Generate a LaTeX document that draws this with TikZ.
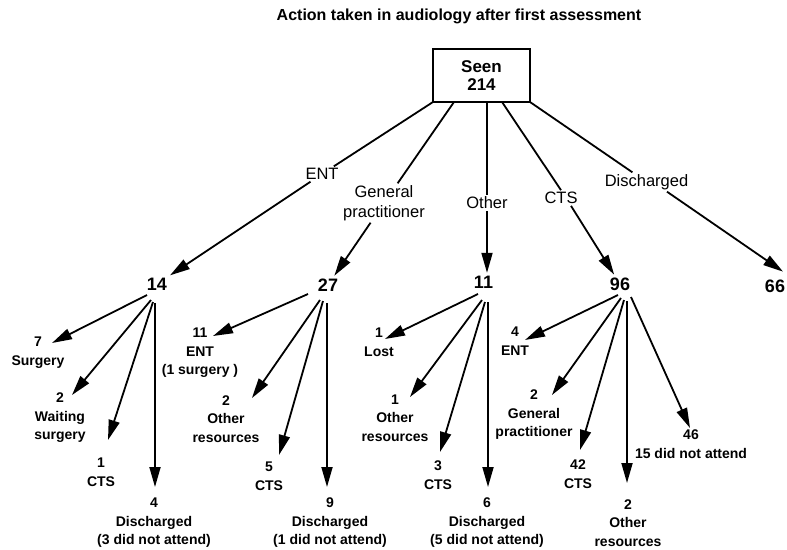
\documentclass[tikz,border=0pt]{standalone}
\usepackage{fontspec}
\setmainfont{Liberation Sans}
\usetikzlibrary{arrows.meta,calc}
\begin{document}
\begin{tikzpicture}[x=1pt,y=-1pt,
  every node/.style={inner sep=0pt, outer sep=0pt},
  line/.style={line width=1.8pt},
  arr/.style={line width=1.8pt, -{Triangle[length=20pt,width=11pt]}},
  toplab/.style={font=\fontsize{16.5}{20}\selectfont, align=center, inner sep=2pt},
  num/.style={font=\fontsize{18}{20}\selectfont\bfseries, inner sep=3pt},
  leaf/.style={font=\fontsize{14}{18.5}\selectfont\bfseries, align=center}]
\useasboundingbox (0,0) rectangle (787,549);

\node[font=\fontsize{16}{19}\selectfont\bfseries] (title) at (459,16) {Action taken in audiology after first assessment};
\node[draw, line width=1.5pt, minimum width=97pt, minimum height=53pt, align=center,
      font=\fontsize{17}{18.5}\selectfont\bfseries] (seen) at (481.5,75.5) {Seen\\214};

% first-level labels
\node[toplab] (lENT) at (322,174) {ENT};
\node[toplab] (lGP) at (384,203) {General\\practitioner};
\node[toplab] (lOther) at (487,203) {Other};
\node[toplab] (lCTS) at (561,198) {CTS};
\node[toplab] (lDis) at (646.5,182) {Discharged};

% numbers
\node[num] (n14) at (157,284) {14};
\node[num] (n27) at (328,285) {27};
\node[num] (n11) at (483.5,282) {11};
\node[num] (n96) at (620,284) {96};
\node[num] (n66) at (775,286) {66};

% leaves
\node[leaf] (c7) at (38,352.5) {7\\Surgery};
\node[leaf] (cWait) at (60,418) {2\\Waiting\\surgery};
\node[leaf] (cA1) at (101,472) {1\\CTS};
\node[leaf] (cA4) at (154,523) {4\\Discharged\\(3 did not attend)};

\node[leaf] (cB11) at (200,353) {11\\ENT\\(1 surgery )};
\node[leaf] (cB2) at (226,419) {2\\Other\\resources};
\node[leaf] (cB5) at (269,476) {5\\CTS};
\node[leaf] (cB9) at (330,523) {9\\Discharged\\(1 did not attend)};

\node[leaf] (cC1) at (379,342) {1\\Lost};
\node[leaf] (cC1o) at (395,418) {1\\Other\\resources};
\node[leaf] (cC3) at (438,475) {3\\CTS};
\node[leaf] (cC6) at (487,523) {6\\Discharged\\(5 did not attend)};

\node[leaf] (cD4) at (515,341) {4\\ENT};
\node[leaf] (cD2) at (534,415) {2\\General\\practitioner};
\node[leaf] (cD42) at (578,474) {42\\CTS};
\node[leaf] (cD2o) at (628,523) {2\\Other\\resources};
\node[leaf] (cD46) at (691,444) {46\\15 did not attend};

% box to labels
\draw[line] (seen.south west) -- (lENT);
\draw[line] ([xshift=21pt]seen.south west) -- (lGP);
\draw[line] (seen.south -| lOther.north) -- (lOther.north);
\draw[line] ([xshift=69pt]seen.south west) -- (lCTS.north);
\draw[line] (seen.south east) -- (lDis);

% labels to numbers
\draw[arr] (lENT) -- (n14);
\draw[arr] (lGP) -- (n27);
\draw[arr] (lOther.south) -- (lOther.south |- n11.north);
\draw[arr] ([xshift=10pt]lCTS.south) -- (n96);
\draw[arr] ([xshift=20.5pt]lDis.south) -- ([xshift=8pt,yshift=5pt]n66.north);

% 14
\draw[arr] ([shift={(-10,11)}]n14.center) -- ([shift={(14,-9.5)}]c7.center);
\draw[arr] ([shift={(-6,16)}]n14.center) -- ([shift={(12,-23)}]cWait.center);
\draw[arr] ([shift={(-4,18)}]n14.center) -- ([shift={(7,-32)}]cA1.center);
\draw[arr] ([shift={(-2,19)}]n14.center) -- ([shift={(1,-36)}]cA4.center);
% 27
\draw[arr] ([shift={(-20,9)}]n27.center) -- ([shift={(13,-17)}]cB11.center);
\draw[arr] ([shift={(-8,15)}]n27.center) -- ([shift={(26,-21)}]cB2.center);
\draw[arr] ([shift={(-5,16)}]n27.center) -- ([shift={(10,-21)}]cB5.center);
\draw[arr] ([shift={(-1,18)}]n27.center) -- ([shift={(-3,-36)}]cB9.center);
% 11
\draw[arr] ([shift={(-5.5,12)}]n11.center) -- ([shift={(6,-3)}]cC1.center);
\draw[arr] ([shift={(-1.5,18)}]n11.center) -- ([shift={(15,-21)}]cC1o.center);
\draw[arr] ([shift={(1.5,20)}]n11.center) -- ([shift={(2,-23)}]cC3.center);
\draw[arr] ([shift={(4.5,20)}]n11.center) -- ([shift={(1,-36)}]cC6.center);
% 96
\draw[arr] ([shift={(-2,11)}]n96.center) -- ([shift={(10,-1)}]cD4.center);
\draw[arr] ([shift={(1,14)}]n96.center) -- ([shift={(18,-20)}]cD2.center);
\draw[arr] ([shift={(4,16)}]n96.center) -- ([shift={(2,-24)}]cD42.center);
\draw[arr] ([shift={(7,17)}]n96.center) -- ([shift={(-1,-40)}]cD2o.center);
\draw[arr] ([shift={(11,13)}]n96.center) -- ([shift={(-1,-16)}]cD46.center);
\end{tikzpicture}
\end{document}
